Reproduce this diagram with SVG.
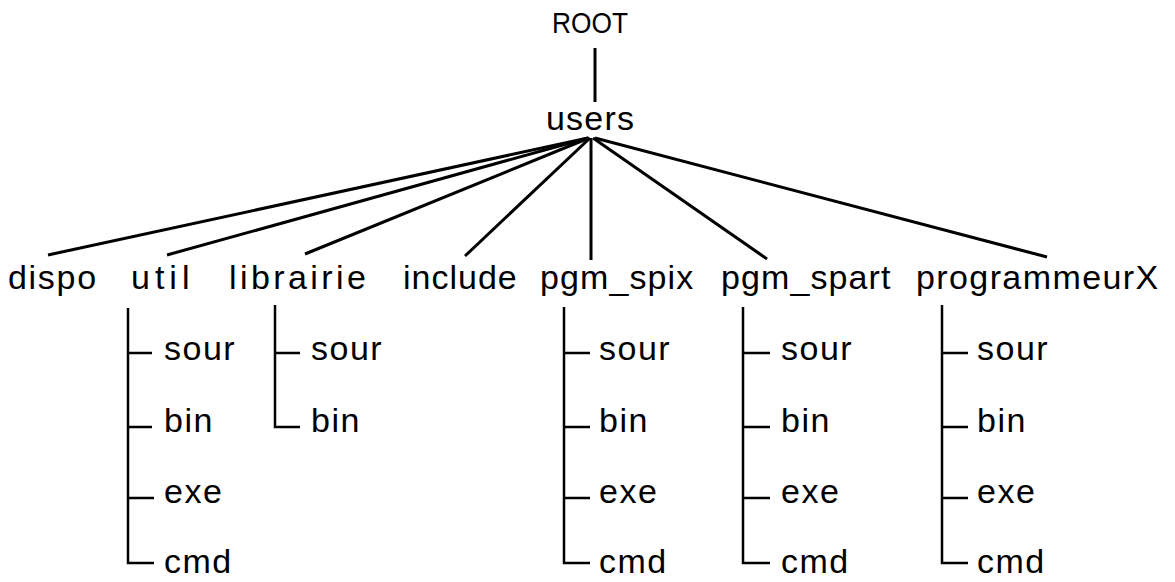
<svg xmlns="http://www.w3.org/2000/svg" width="1175" height="582" viewBox="0 0 1175 582">
<style>
text{font-family:"Liberation Sans",Arial,sans-serif;font-size:34px;letter-spacing:1.5px;fill:#000}
.e{stroke:#000;stroke-width:3;fill:none;stroke-linecap:butt}
.t{stroke:#000;stroke-width:2.5;fill:none}
</style>
<rect width="1175" height="582" fill="#fff"/>
<g id="connectors">
<line class="e" x1="595" y1="48" x2="595" y2="102"/>
<line class="e" x1="588" y1="138" x2="48" y2="255"/>
<line class="e" x1="588" y1="138" x2="167" y2="255"/>
<line class="e" x1="589" y1="138" x2="305" y2="254"/>
<line class="e" x1="590" y1="138" x2="465" y2="256"/>
<line class="e" x1="591" y1="138" x2="591" y2="260"/>
<line class="e" x1="593" y1="138" x2="767" y2="259"/>
<line class="e" x1="595" y1="138" x2="1047" y2="257"/>
<path class="t" d="M128 308V563H154M128 353H152M128 427H152M128 498H154"/>
<path class="t" d="M275 305V427H300M275 353H300"/>
<path class="t" d="M564 307V563H590M564 353H590M564 427H590M564 498H590"/>
<path class="t" d="M743 307V563H770M743 353H770M743 427H770M743 498H770"/>
<path class="t" d="M942 305V563H968M942 353H968M942 427H968M942 498H968"/>
</g>
<g id="root"><text x="552" y="33" style="font-size:29px;letter-spacing:0" textLength="76" lengthAdjust="spacingAndGlyphs">ROOT</text></g>
<g id="users"><text x="546" y="130" style="letter-spacing:1.2px">users</text></g>
<g id="dispo"><text x="8" y="289" style="letter-spacing:1.7px">dispo</text></g>
<g id="util"><text x="131" y="289" style="letter-spacing:5px">util</text></g>
<g id="librairie"><text x="229" y="289" style="letter-spacing:3.4px">librairie</text></g>
<g id="include"><text x="403" y="289" style="letter-spacing:1px">include</text></g>
<g id="pgm_spix"><text x="540" y="289" style="letter-spacing:1.1px">pgm_spix</text></g>
<g id="pgm_spart"><text x="721" y="289" style="letter-spacing:1.1px">pgm_spart</text></g>
<g id="programmeurX"><text x="916" y="289" style="letter-spacing:1.4px">programmeurX</text></g>
<g id="util-children">
<text x="164" y="360">sour</text><text x="164" y="432">bin</text><text x="164" y="503">exe</text><text x="164" y="573">cmd</text>
</g>
<g id="librairie-children">
<text x="311" y="360">sour</text><text x="311" y="432">bin</text>
</g>
<g id="pgm_spix-children">
<text x="599" y="360">sour</text><text x="599" y="432">bin</text><text x="599" y="503">exe</text><text x="599" y="573">cmd</text>
</g>
<g id="pgm_spart-children">
<text x="781" y="360">sour</text><text x="781" y="432">bin</text><text x="781" y="503">exe</text><text x="781" y="573">cmd</text>
</g>
<g id="programmeurX-children">
<text x="977" y="360">sour</text><text x="977" y="432">bin</text><text x="977" y="503">exe</text><text x="977" y="573">cmd</text>
</g>
</svg>
